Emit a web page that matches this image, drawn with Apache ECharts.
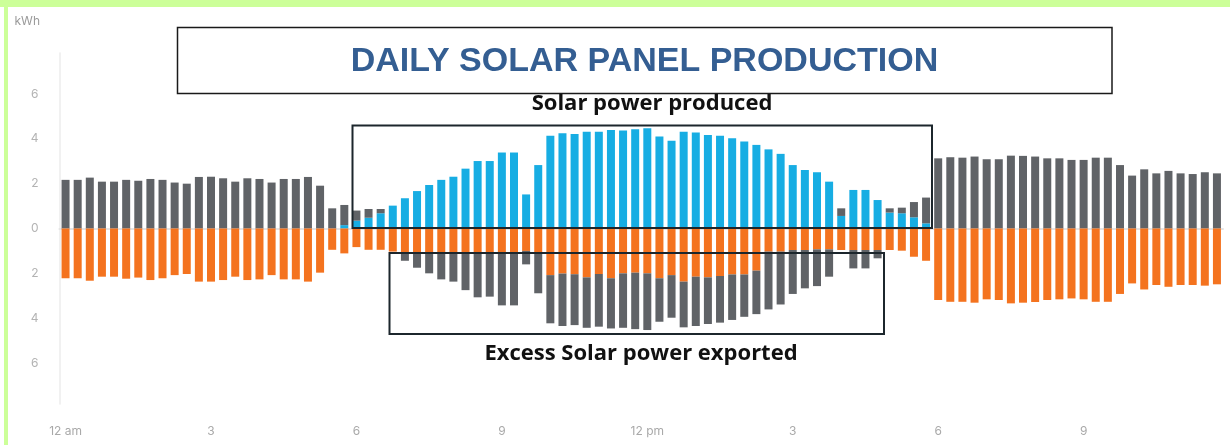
<!DOCTYPE html>
<html>
<head>
<meta charset="utf-8">
<script src="https://cdn.jsdelivr.net/npm/echarts@6/dist/echarts.min.js"></script>
<style>
  html, body { margin: 0; padding: 0; background: #ffffff; }
  #chart { width: 1230px; height: 445px; }
</style>
</head>
<body>
<div id="chart"></div>
<script>
// Quarter-hour slots over one day (96 bars), labelled every 3 hours
const hourLabels = ['12 am', '3', '6', '9', '12 pm', '3', '6', '9'];
const slots = [];
for (let i = 0; i < 96; i++) {
  slots.push(i % 12 === 0 ? hourLabels[i / 12] : '');
}

// Energy drawn from the grid (kWh, plotted above zero on top of solar)
const gridImport = [
  2.17, 2.17, 2.27, 2.09, 2.09, 2.17, 2.13, 2.21, 2.17, 2.05, 2.00, 2.30,
  2.31, 2.24, 2.09, 2.24, 2.21, 2.05, 2.21, 2.21, 2.30, 1.91, 0.90, 0.90,
  0.45, 0.39, 0.19, 0, 0, 0, 0, 0, 0, 0, 0, 0,
  0, 0, 0, 0, 0, 0, 0, 0, 0, 0, 0, 0,
  0, 0, 0, 0, 0, 0, 0, 0, 0, 0, 0, 0,
  0, 0, 0, 0, 0.34, 0, 0, 0, 0.19, 0.25, 0.68, 1.15,
  3.13, 3.18, 3.16, 3.21, 3.09, 3.09, 3.25, 3.24, 3.21, 3.13, 3.13, 3.06,
  3.06, 3.16, 3.16, 2.83, 2.36, 2.64, 2.46, 2.57, 2.46, 2.43, 2.51, 2.46
];

// Solar power produced (kWh)
const solar = [
  0, 0, 0, 0, 0, 0, 0, 0, 0, 0, 0, 0,
  0, 0, 0, 0, 0, 0, 0, 0, 0, 0, 0, 0.15,
  0.35, 0.48, 0.68, 1.02, 1.35, 1.67, 1.94, 2.17, 2.31, 2.67, 3.01, 3.01,
  3.39, 3.39, 1.52, 2.83, 4.14, 4.25, 4.22, 4.32, 4.32, 4.40, 4.37, 4.43,
  4.47, 4.10, 3.91, 4.32, 4.28, 4.17, 4.14, 4.03, 3.88, 3.73, 3.53, 3.33,
  2.83, 2.61, 2.51, 2.09, 0.56, 1.72, 1.72, 1.27, 0.71, 0.68, 0.50, 0.23,
  0, 0, 0, 0, 0, 0, 0, 0, 0, 0, 0, 0,
  0, 0, 0, 0, 0, 0, 0, 0, 0, 0, 0, 0
];

// Household consumption (kWh, plotted below zero)
const consumption = [
  2.22, 2.22, 2.33, 2.15, 2.15, 2.24, 2.19, 2.30, 2.22, 2.08, 2.03, 2.37,
  2.37, 2.30, 2.15, 2.30, 2.27, 2.08, 2.27, 2.27, 2.37, 1.97, 0.95, 1.11,
  0.83, 0.95, 0.95, 1.03, 1.05, 1.05, 1.05, 1.05, 1.05, 1.05, 1.05, 1.05,
  1.05, 1.05, 1.00, 1.12, 2.08, 2.01, 2.04, 2.18, 2.03, 2.22, 2.00, 1.97,
  2.00, 2.22, 2.08, 2.37, 2.15, 2.18, 2.12, 2.05, 2.05, 1.88, 1.03, 1.03,
  0.96, 0.96, 0.93, 0.93, 0.96, 0.96, 0.96, 0.96, 0.96, 0.99, 1.26, 1.44,
  3.19, 3.27, 3.27, 3.31, 3.16, 3.19, 3.34, 3.31, 3.28, 3.19, 3.16, 3.12,
  3.16, 3.27, 3.27, 2.92, 2.45, 2.72, 2.52, 2.60, 2.52, 2.52, 2.55, 2.49
];

// Excess solar exported to the grid (kWh, plotted below consumption)
const exported = [
  0, 0, 0, 0, 0, 0, 0, 0, 0, 0, 0, 0,
  0, 0, 0, 0, 0, 0, 0, 0, 0, 0, 0, 0,
  0, 0, 0, 0, 0.39, 0.70, 0.95, 1.22, 1.32, 1.70, 2.02, 1.99,
  2.38, 2.38, 0.60, 1.77, 2.15, 2.34, 2.27, 2.25, 2.35, 2.24, 2.43, 2.52,
  2.53, 1.94, 1.90, 2.04, 2.20, 2.08, 2.08, 2.03, 1.89, 1.94, 2.58, 2.36,
  1.96, 1.71, 1.64, 1.22, 0, 0.82, 0.82, 0.37, 0, 0, 0, 0,
  0, 0, 0, 0, 0, 0, 0, 0, 0, 0, 0, 0,
  0, 0, 0, 0, 0, 0, 0, 0, 0, 0, 0, 0
];

const yTicks = [-6, -4, -2, 0, 2, 4, 6];

const GREY = '#606367';
const BLUE = '#17ade3';
const ORANGE = '#f4731f';
const BAR_W = 8;

const neg = arr => arr.map(v => (v === 0 ? 0 : -v));

const chart = echarts.init(document.getElementById('chart'), null, { renderer: 'canvas' });

chart.setOption({
  animation: false,
  backgroundColor: '#ffffff',
  grid: { left: 59.5, right: 7, top: 53, bottom: 41, containLabel: false },
  xAxis: {
    type: 'category',
    data: slots,
    boundaryGap: true,
    axisLine: { show: true, lineStyle: { color: '#e4e4e4', width: 2 } },
    axisTick: { show: false },
    axisLabel: {
      interval: 11,
      margin: 21,
      color: '#a9a9a9',
      fontSize: 12,
      fontFamily: 'Inter, Roboto, sans-serif'
    },
    splitLine: { show: false }
  },
  yAxis: {
    type: 'value',
    min: -7.83,
    max: 7.83,
    name: 'kWh',
    nameLocation: 'end',
    nameGap: 0,
    nameTextStyle: {
      color: '#9a9a9a', fontSize: 12, fontFamily: 'Inter, Roboto, sans-serif',
      align: 'left', padding: [0, 0, 26, -45]
    },
    axisLine: { show: true, lineStyle: { color: '#ececec', width: 1.5 } },
    axisTick: { show: false },
    splitLine: { show: false },
    axisLabel: {
      customValues: yTicks,
      margin: 21,
      color: '#b3b3b3',
      fontSize: 12,
      fontFamily: 'Inter, Roboto, sans-serif',
      formatter: v => String(Math.abs(v))
    }
  },
  series: [
    { name: 'Solar', type: 'bar', stack: 'energy', barWidth: BAR_W,
      itemStyle: { color: BLUE }, data: solar },
    { name: 'Grid import', type: 'bar', stack: 'energy', barWidth: BAR_W,
      itemStyle: { color: GREY }, data: gridImport },
    { name: 'Consumption', type: 'bar', stack: 'energy', barWidth: BAR_W,
      itemStyle: { color: ORANGE }, data: neg(consumption) },
    { name: 'Exported', type: 'bar', stack: 'energy', barWidth: BAR_W,
      itemStyle: { color: GREY }, data: neg(exported) }
  ],
  graphic: [
    // light green frame along the top and left edge
    { type: 'rect', z: 0, silent: true, shape: { x: 0, y: 0, width: 1230, height: 7 },
      style: { fill: '#ccff99' } },
    { type: 'rect', z: 0, silent: true, shape: { x: 4, y: 0, width: 4, height: 445 },
      style: { fill: '#ccff99' } },
    // headline box
    { type: 'rect', z: 50, silent: true,
      shape: { x: 177.5, y: 27.5, width: 934.5, height: 66 },
      style: { fill: '#ffffff', stroke: '#1a1a1a', lineWidth: 1.5 } },
    { type: 'text', z: 51, silent: true, x: 644.5, y: 62,
      style: { text: 'DAILY SOLAR PANEL PRODUCTION', fill: '#345e92',
        font: 'bold 34px "Liberation Sans", Arial, sans-serif',
        textAlign: 'center', textVerticalAlign: 'middle' } },
    // solar production callout
    { type: 'text', z: 51, silent: true, x: 652, y: 104,
      style: { text: 'Solar power produced', fill: '#111111',
        font: 'bold 22px "Open Sans", "Noto Sans", sans-serif',
        textAlign: 'center', textVerticalAlign: 'middle' } },
    { type: 'rect', z: 50, silent: true,
      shape: { x: 352.5, y: 125.5, width: 579.5, height: 102.5 },
      style: { fill: 'none', stroke: '#1c262c', lineWidth: 2 } },
    // export callout
    { type: 'rect', z: 50, silent: true,
      shape: { x: 389.5, y: 253, width: 494.5, height: 81 },
      style: { fill: 'none', stroke: '#1c262c', lineWidth: 2 } },
    { type: 'text', z: 51, silent: true, x: 641, y: 354,
      style: { text: 'Excess Solar power exported', fill: '#111111',
        font: 'bold 22px "Open Sans", "Noto Sans", sans-serif',
        textAlign: 'center', textVerticalAlign: 'middle' } }
  ]
});
</script>
</body>
</html>
